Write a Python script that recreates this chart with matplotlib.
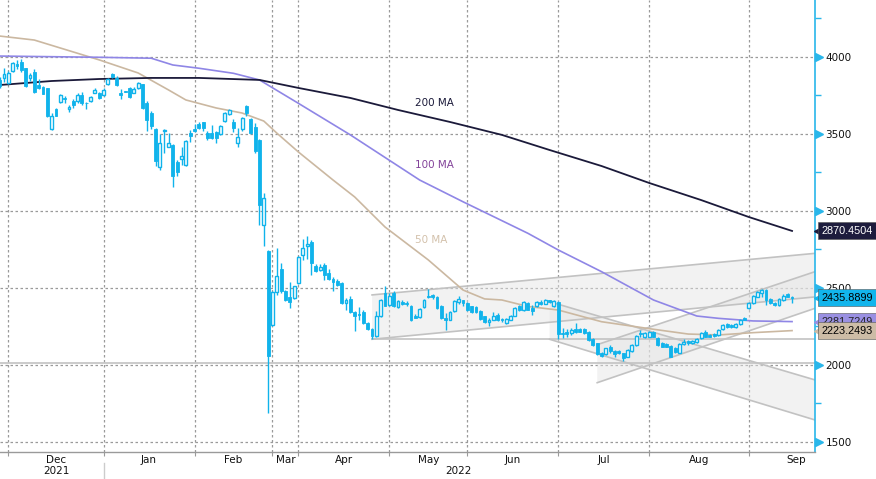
import matplotlib
matplotlib.use('Agg')
import matplotlib.pyplot as plt
from matplotlib.transforms import blended_transform_factory
from matplotlib.patches import Rectangle, Polygon

# ---------------- data (trading-day index = position) ----------------
opens = [3850,3866,3830,3909,3952,3970,3926,3865,3904,3815,3807,3796,3533,3659,3709,3735,3659,3713,3713,3752,
         3703,3713,3767,3763,3752,3822,3887,3865,3763,3775,3800,3767,3800,3822,3702,3639,3530,3288,3520,3418,
         3429,3320,3340,3299,3509,3532,3565,3576,3504,3504,3515,3500,3587,3628,3580,3439,3530,3682,3595,3543,
         3461,2911,2738,2258,2472,2623,2483,2442,2435,2532,2712,2771,2799,2645,2615,2651,2597,2561,2548,2532,
         2403,2429,2344,2333,2342,2273,2236,2190,2320,2468,2392,2468,2377,2407,2403,2385,2316,2312,2374,2450,
         2455,2442,2385,2303,2294,2348,2407,2420,2403,2381,2377,2348,2316,2277,2294,2327,2296,2273,2294,2320,
         2381,2355,2403,2370,2381,2409,2398,2420,2381,2411,2210,2212,2210,2232,2232,2232,2216,2167,2141,2080,
         2069,2119,2091,2089,2076,2054,2093,2130,2210,2184,2184,2216,2173,2145,2134,2123,2108,2080,2136,2158,
         2140,2147,2173,2216,2195,2201,2195,2232,2266,2258,2245,2264,2303,2372,2401,2444,2466,2487,2427,2405,
         2390,2422,2461,2442]
highs = [3870,3927,3909,3970,3978,3985,3930,3898,3920,3854,3811,3800,3637,3670,3757,3746,3687,3724,3767,3774,
         3705,3745,3796,3774,3800,3865,3898,3876,3789,3777,3807,3807,3840,3826,3713,3652,3537,3498,3530,3504,
         3433,3331,3418,3461,3526,3563,3576,3580,3519,3558,3522,3558,3645,3662,3595,3537,3613,3688,3602,3569,
         3470,3117,2749,2478,2760,2662,2489,2539,2515,2710,2818,2840,2814,2655,2658,2662,2623,2571,2558,2537,
         2435,2446,2348,2374,2355,2277,2240,2348,2429,2511,2468,2478,2420,2420,2418,2392,2333,2370,2429,2496,
         2462,2450,2392,2338,2348,2420,2446,2424,2407,2385,2381,2355,2320,2305,2342,2338,2305,2305,2327,2377,
         2392,2413,2409,2392,2413,2420,2429,2424,2420,2418,2238,2232,2238,2271,2238,2238,2223,2173,2145,2086,
         2112,2130,2097,2097,2080,2101,2136,2195,2227,2216,2221,2221,2180,2151,2145,2130,2115,2141,2167,2162,
         2162,2173,2212,2227,2201,2206,2232,2266,2275,2266,2271,2297,2310,2411,2455,2483,2494,2494,2433,2411,
         2433,2461,2465,2445]
lows = [3800,3840,3822,3904,3920,3904,3804,3843,3767,3789,3757,3613,3528,3615,3702,3702,3643,3670,3702,3691,
        3665,3710,3763,3728,3746,3817,3861,3811,3724,3771,3735,3763,3795,3665,3517,3530,3292,3266,3375,3413,
        3158,3227,3299,3292,3450,3515,3530,3520,3461,3468,3439,3494,3580,3622,3515,3413,3522,3617,3500,3374,
        2911,2771,1688,2251,2457,2468,2413,2370,2431,2528,2684,2690,2582,2602,2608,2554,2554,2478,2515,2398,
        2359,2338,2219,2294,2268,2230,2169,2182,2312,2381,2385,2377,2370,2390,2385,2284,2305,2305,2370,2435,
        2428,2364,2299,2229,2290,2342,2398,2385,2348,2338,2338,2294,2273,2251,2290,2284,2277,2268,2290,2316,
        2348,2348,2355,2327,2377,2388,2394,2403,2377,2167,2173,2184,2195,2206,2212,2201,2158,2123,2063,2054,
        2063,2080,2054,2069,2023,2050,2086,2126,2184,2177,2180,2180,2123,2115,2115,2050,2080,2076,2130,2132,
        2136,2143,2169,2180,2180,2184,2190,2228,2240,2238,2240,2260,2290,2365,2394,2440,2442,2392,2396,2381,
        2386,2418,2440,2403]
closes = [3810,3888,3893,3963,3943,3913,3811,3880,3774,3800,3761,3615,3620,3620,3752,3726,3674,3691,3752,3702,
          3698,3741,3783,3735,3787,3859,3872,3817,3754,3773,3739,3789,3833,3670,3593,3554,3327,3439,3526,3439,
          3227,3255,3357,3455,3487,3522,3541,3541,3472,3472,3472,3552,3634,3656,3541,3478,3606,3639,3509,3390,
          3041,3084,2056,2472,2576,2483,2424,2407,2511,2701,2760,2788,2662,2608,2636,2587,2558,2539,2522,2403,
          2420,2342,2316,2325,2273,2234,2186,2320,2424,2385,2446,2385,2413,2394,2396,2294,2307,2364,2424,2439,
          2439,2370,2305,2290,2342,2413,2429,2403,2355,2342,2342,2299,2277,2294,2320,2294,2290,2299,2320,2370,
          2355,2407,2359,2348,2407,2396,2420,2407,2413,2199,2199,2201,2227,2216,2216,2210,2162,2130,2069,2058,
          2108,2091,2069,2080,2043,2097,2130,2190,2199,2206,2216,2184,2130,2119,2119,2054,2086,2136,2151,2140,
          2156,2167,2206,2184,2184,2188,2227,2260,2245,2247,2266,2292,2292,2401,2448,2476,2487,2422,2401,2390,
          2427,2448,2444,2436]

ma200_idx = [0, 12, 23, 35, 46, 60, 69, 81, 92, 104, 116, 127, 139, 150, 162, 173, 183]
ma200_val = [3818, 3844, 3857, 3864, 3864, 3851, 3799, 3734, 3656, 3578, 3494, 3396, 3292, 3182, 3071, 2961, 2870.45]
ma100_idx = [0, 23, 35, 40, 46, 54, 60, 69, 81, 97, 107, 122, 129, 139, 151, 161, 166, 174, 183]
ma100_val = [4006, 3998, 3992, 3948, 3927, 3894, 3851, 3699, 3494, 3201, 3060, 2855, 2747, 2606, 2422, 2318, 2303, 2286, 2281.72]
ma50_idx = [0, 8, 23, 32, 39, 43, 50, 56, 61, 64, 69, 77, 82, 89, 99, 107, 112, 116, 122, 129, 139, 151, 159, 166, 174, 183]
ma50_val = [4136, 4110, 3981, 3896, 3786, 3721, 3669, 3636, 3584, 3506, 3383, 3201, 3091, 2896, 2682, 2487, 2429, 2422, 2380,
            2357, 2281, 2232, 2201, 2195, 2210, 2223.25]

month_labels = ['Dec', 'Jan', 'Feb', 'Mar', 'Apr', 'May', 'Jun', 'Jul', 'Aug', 'Sep']
month_start = [2, 24, 45, 63, 69, 90, 108, 129, 150, 173]
month_next = [24, 45, 63, 69, 90, 108, 129, 150, 173, 195]
year_labels = ['2021', '2022']
year_pos = [13, 106]

# trend channels: (start idx, end idx, top start/end, bottom start/end)
channels = [
    (86, 188.3, 2455, 2725, 2167, 2442),
    (127, 188.3, 2411, 1903, 2167, 1643),
    (138, 188.3, 2132, 2606, 1885, 2368),
]
hlines = [(86, 188.3, 2167), (0, 188.3, 2016)]

tags = [(2870.4504, '#1d1c3d', 'white'), (2435.8899, '#12b5ec', 'black'),
        (2281.7249, '#9a90e2', '#222222'), (2223.2493, '#cdbca6', 'black')]

# ---------------- plot ----------------
BLUE = '#10b3eb'
W, H = 876, 479
fig = plt.figure(figsize=(W / 100, H / 100), dpi=100)
ax = fig.add_axes([0, 27 / H, 815 / W, 452 / H])
XMIN, XMAX = 0.08, 188.3
ax.set_xlim(XMIN, XMAX)
ax.set_ylim(1435, 4370)

# grid
for v in range(1500, 4001, 500):
    ax.axhline(v, color='#9a9a9a', lw=0.9, ls=(0, (2, 2)), zorder=0)
for m in month_start:
    ax.axvline(m, color='#9a9a9a', lw=0.9, ls=(0, (2, 2)), zorder=0)

# channels
for x0, x1, t0, t1, b0, b1 in channels:
    ax.add_patch(Polygon([[x0, t0], [x1, t1], [x1, b1], [x0, b0]], closed=True,
                         facecolor='#e4e4e4', alpha=0.45, edgecolor='none', zorder=1))
    ax.plot([x0, x1], [t0, t1], color='#c2c2c2', lw=1.2, zorder=1.5)
    ax.plot([x0, x1], [b0, b1], color='#c2c2c2', lw=1.2, zorder=1.5)
for x0, x1, v in hlines:
    ax.plot([x0, x1], [v, v], color='#c2c2c2', lw=1.2, zorder=1.5)

# moving averages
ax.plot(ma50_idx, ma50_val, color='#cbb8a1', lw=1.2, zorder=2)
ax.plot(ma100_idx, ma100_val, color='#8f86e6', lw=1.2, zorder=2)
ax.plot(ma200_idx, ma200_val, color='#1b1a3a', lw=1.3, zorder=2)
ax.text(96, 3701, '200 MA', color='#1b1a3a', fontsize=7.5, va='center', ha='left')
ax.text(96, 3299, '100 MA', color='#83439a', fontsize=7.5, va='center', ha='left')
ax.text(96, 2812, '50 MA', color='#d3c1ab', fontsize=7.5, va='center', ha='left')

# candles
bw = 0.66
for i, (o, h, l, c) in enumerate(zip(opens, highs, lows, closes)):
    ax.plot([i, i], [l, h], color=BLUE, lw=1.0, zorder=3, solid_capstyle='butt')
    bottom = min(o, c)
    height = max(abs(c - o), 4)
    if c >= o:
        ax.add_patch(Rectangle((i - bw / 2, bottom), bw, height, facecolor='white',
                               edgecolor=BLUE, lw=1.0, zorder=4))
    else:
        ax.add_patch(Rectangle((i - bw / 2, bottom), bw, height, facecolor=BLUE,
                               edgecolor=BLUE, lw=0.6, zorder=4))

# spines
for s in ['left', 'top']:
    ax.spines[s].set_visible(False)
ax.spines['right'].set_color('#29b6ea')
ax.spines['right'].set_linewidth(1.2)
ax.spines['bottom'].set_color('#9a9a9a')
ax.spines['bottom'].set_linewidth(1.0)

# y axis
ax.yaxis.tick_right()
ax.set_yticks(range(1500, 4001, 500))
ax.set_yticks(range(1750, 4300, 500), minor=True)
ax.tick_params(axis='y', which='major', length=0, pad=7.5, labelsize=7.5, labelcolor='#111111')
ax.tick_params(axis='y', which='minor', length=4, width=1, color='#29b6ea', direction='out')
ty = blended_transform_factory(ax.transAxes, ax.transData)
ax.plot([1.0055] * 6, list(range(1500, 4001, 500)), ls='none', marker='>', ms=5.5,
        color='#29b6ea', transform=ty, clip_on=False, zorder=6)

# value tags
for val, bg, fg in tags:
    ax.plot([1.006], [val], ls='none', marker='<', ms=9, color=bg, transform=ty, clip_on=False, zorder=7)
    ax.text(1.0085, val, f'{val:.4f}', transform=ty, fontsize=7.8, color=fg, va='center', ha='left',
            family='Liberation Sans', zorder=8,
            bbox=dict(boxstyle='square,pad=0.32', facecolor=bg, edgecolor='#555555', lw=0.4))

# x axis
ax.set_xticks(month_start)
ax.set_xticklabels([])
ax.tick_params(axis='x', which='major', length=3, color='#9a9a9a', direction='out')
tx = blended_transform_factory(ax.transData, ax.transAxes)
for lab, s, n in zip(month_labels, month_start, month_next):
    ax.text((s + n) / 2, -0.0185, lab, transform=tx, ha='center', va='center', fontsize=7.5, color='#111111')
for lab, p in zip(year_labels, year_pos):
    ax.text(p, -0.043, lab, transform=tx, ha='center', va='center', fontsize=7.5, color='#111111')
ax.plot([24, 24], [-0.025, -0.065], color='#cccccc', lw=1, transform=tx, clip_on=False)

fig.savefig('out.png', dpi=100, facecolor='white')
